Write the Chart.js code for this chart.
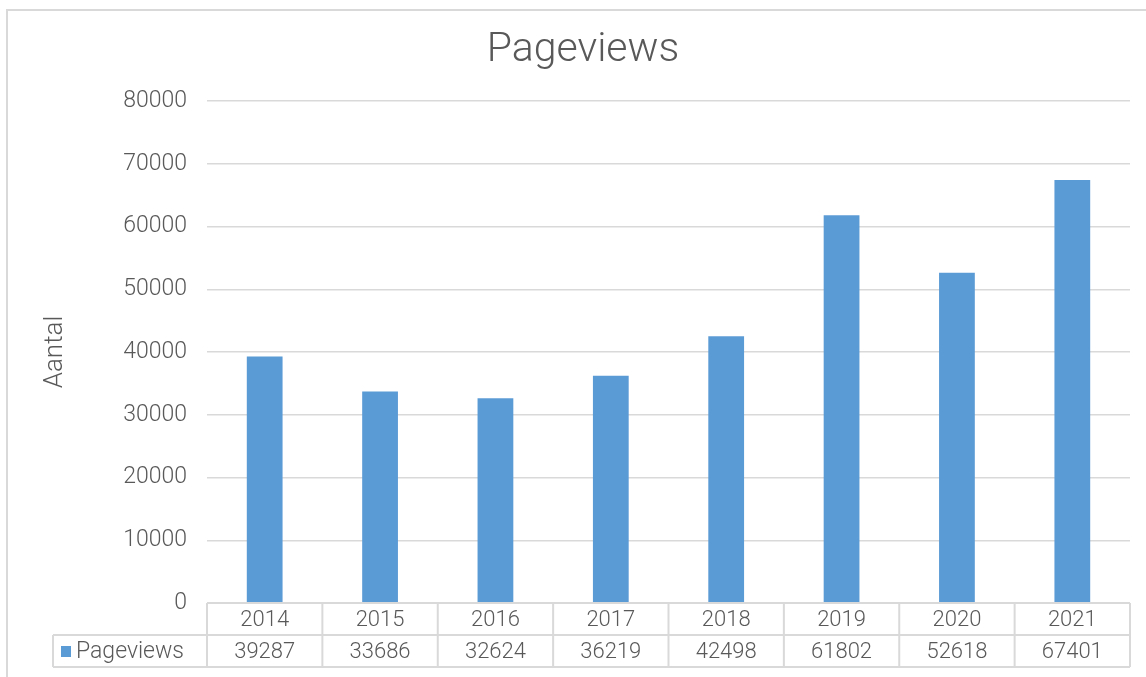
<!DOCTYPE html>
<html>
<head>
<meta charset="utf-8">
<script src="https://cdn.jsdelivr.net/npm/chart.js@4"></script>
<style>
  html, body { margin: 0; padding: 0; background: #fff; }
  #wrap { width: 1146px; height: 677px; }
</style>
</head>
<body>
<div id="wrap"><canvas id="pvChart"></canvas></div>
<script>
// Data
const years = ['2014', '2015', '2016', '2017', '2018', '2019', '2020', '2021'];
const pageviews = [39287, 33686, 32624, 36219, 42498, 61802, 52618, 67401];
const seriesName = 'Pageviews';
const yTicks = [0, 10000, 20000, 30000, 40000, 50000, 60000, 70000, 80000];

const BAR = '#5b9bd5';
const GRID = '#d9d9d9';
const TEXT = '#595959';
const FONT = 'Roboto, "Noto Sans", sans-serif';

// Frame + data table under the plot, positioned from the x scale
const tablePlugin = {
    id: 'dataTable',
    beforeDraw(chart) {
        const ctx = chart.ctx;
        ctx.save();
        ctx.fillStyle = '#fff';
        ctx.fillRect(0, 0, chart.width, chart.height);
        ctx.strokeStyle = GRID;
        ctx.lineWidth = 2;
        ctx.strokeRect(7, 10, chart.width + 40, chart.height + 40);
        ctx.restore();
    },
    afterDraw(chart) {
        const ctx = chart.ctx;
        const x = chart.scales.x;
        const area = chart.chartArea;
        const rowH = 32;
        const top = area.bottom;
        const mid = top + rowH;
        const bot = mid + rowH;
        const half = (x.getPixelForValue(1) - x.getPixelForValue(0)) / 2;
        const legendLeft = 53;

        ctx.save();
        ctx.strokeStyle = GRID;
        ctx.lineWidth = 2;
        ctx.beginPath();
        ctx.moveTo(area.left, top); ctx.lineTo(area.right, top);
        ctx.moveTo(legendLeft, mid); ctx.lineTo(area.right, mid);
        ctx.moveTo(legendLeft, bot); ctx.lineTo(area.right, bot);
        ctx.moveTo(legendLeft, mid); ctx.lineTo(legendLeft, bot);
        years.forEach((y, i) => {
            const cx = x.getPixelForValue(i);
            ctx.moveTo(cx - half, top); ctx.lineTo(cx - half, bot);
        });
        ctx.moveTo(area.right, top); ctx.lineTo(area.right, bot);
        ctx.stroke();

        ctx.fillStyle = TEXT;
        ctx.font = '300 22px ' + FONT;
        ctx.textAlign = 'center';
        ctx.textBaseline = 'middle';
        years.forEach((y, i) => {
            const cx = x.getPixelForValue(i);
            ctx.fillText(y, cx, top + rowH / 2 + 1);
            ctx.fillText(String(pageviews[i]), cx, mid + rowH / 2 + 1);
        });

        // legend key inside the table
        ctx.fillStyle = BAR;
        ctx.fillRect(61, mid + 11, 10, 11);
        ctx.fillStyle = TEXT;
        ctx.textAlign = 'left';
        ctx.font = '300 23px ' + FONT;
        ctx.fillText(seriesName, 76, mid + rowH / 2 + 1);
        ctx.restore();
    }
};

new Chart(document.getElementById('pvChart'), {
    type: 'bar',
    data: {
        labels: years,
        datasets: [{
            label: seriesName,
            data: pageviews,
            backgroundColor: BAR,
            borderWidth: 0,
            categoryPercentage: 1,
            barPercentage: 0.31
        }]
    },
    options: {
        responsive: true,
        maintainAspectRatio: false,
        animation: false,
        events: [],
        layout: { padding: { left: 36, right: 16, top: 0, bottom: 74 } },
        plugins: {
            legend: { display: false },
            tooltip: { enabled: false },
            title: {
                display: true,
                text: 'Pageviews',
                color: TEXT,
                font: { family: FONT, size: 41, weight: 300 },
                padding: { top: 26, bottom: 25.8 }
            }
        },
        scales: {
            x: { display: false },
            y: {
                min: 0,
                max: 80000,
                afterFit(scale) { scale.width = 171; },
                afterBuildTicks(scale) { scale.ticks = yTicks.map(v => ({ value: v })); },
                border: { display: false },
                grid: { color: GRID, lineWidth: 1.5, drawTicks: false },
                ticks: {
                    color: TEXT,
                    padding: 20,
                    font: { family: FONT, size: 23, weight: 300 },
                    callback: v => String(v)
                },
                title: {
                    display: true,
                    text: 'Aantal',
                    color: TEXT,
                    font: { family: FONT, size: 26, weight: 300 },
                    padding: { top: 4, bottom: 0 }
                }
            }
        }
    },
    plugins: [tablePlugin]
});
</script>
</body>
</html>
